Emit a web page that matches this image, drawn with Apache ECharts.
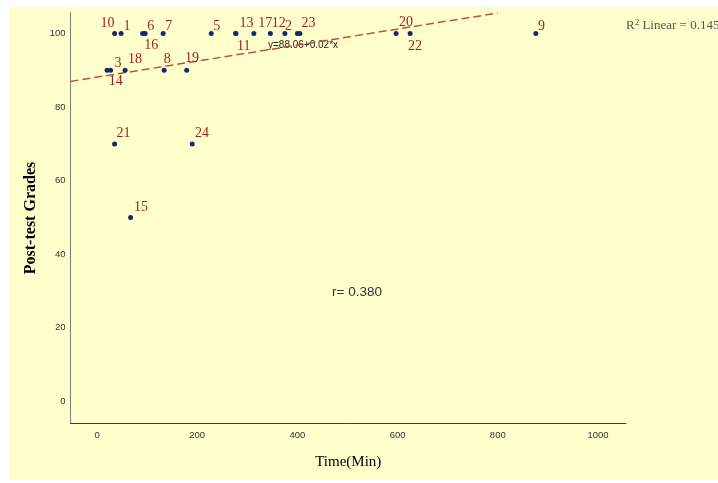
<!DOCTYPE html>
<html>
<head>
<meta charset="utf-8">
<script src="https://cdn.jsdelivr.net/npm/echarts@6/dist/echarts.min.js"></script>
<style>
  html, body { margin: 0; padding: 0; background: #ffffff; width: 718px; height: 483px; overflow: hidden; }
  #chart { position: absolute; left: 9px; top: 7px; width: 709px; height: 473px; }
</style>
</head>
<body>
<div id="chart"></div>
<script>
// case labels, time on task (min) and post-test grade
const caseLabels = ["10", "1", "6", "16", "7", "5", "13", "11", "17", "12", "2", "23", "", "20", "22", "9",
  "3", "14", "18", "8", "19", "21", "24", "15"];
const timeMin = [35, 48, 96, 91, 132, 228, 277, 277, 313, 346, 375, 400, 405, 597, 625, 876,
  27, 20, 56, 134, 179, 35, 190, 67];
const grades = [100, 100, 100, 100, 100, 100, 100, 100, 100, 100, 100, 100, 100, 100, 100, 100,
  90, 90, 90, 90, 90, 70, 70, 50];

// fitted line end points (as drawn)
const fitX = [-53, 800];
const fitY = [87.0, 105.6];

const xTicks = [0, 200, 400, 600, 800, 1000];
const yTicks = [0, 20, 40, 60, 80, 100];

// where each case label sits relative to its dot (centre offset, px)
const labelSpots = {
  "10": [-7, -10.5], "1": [6, -7], "6": [5.7, -7], "16": [8.6, 11.6], "7": [5.5, -7.4],
  "5": [5.5, -7], "13": [10.7, -10.5], "11": [8, 12.7], "17": [11.3, -10.5], "12": [8.4, -10.5],
  "2": [3.6, -7], "23": [11, -10.5], "20": [10, -11], "22": [5, 13], "9": [5.6, -7],
  "3": [7.4, -7.2], "14": [8.8, 11], "18": [9.8, -11], "8": [3, -10.7], "19": [5.3, -11.7],
  "21": [9, -11], "24": [9.8, -11], "15": [10.5, -10]
};

const chart = echarts.init(document.getElementById("chart"), null, { renderer: "canvas" });

const points = timeMin.map((t, i) => {
  const lab = caseLabels[i];
  const off = labelSpots[lab] || [0, 0];
  return {
    value: [t, grades[i]],
    name: lab,
    label: { show: lab !== "", offset: off }
  };
});

chart.setOption({
  backgroundColor: "#ffffcc",
  animation: false,
  grid: { left: 61.5, right: 92, top: 6, bottom: 57 },
  xAxis: {
    type: "value",
    min: -53,
    max: 1056,
    name: "Time(Min)",
    nameLocation: "middle",
    nameGap: 32,
    nameTextStyle: { fontFamily: "Liberation Serif", fontSize: 15, color: "#000" },
    axisLine: { show: true, onZero: false, lineStyle: { color: "#3c3c3c", width: 1 } },
    axisTick: { show: false },
    axisLabel: {
      customValues: xTicks,
      formatter: (v) => String(v),
      margin: 7,
      color: "#333",
      fontFamily: "Liberation Sans",
      fontSize: 9.5
    },
    splitLine: { show: false }
  },
  yAxis: {
    type: "value",
    min: -5.9,
    max: 105.6,
    name: "Post-test Grades",
    nameLocation: "middle",
    nameGap: 30,
    nameTextStyle: { fontFamily: "Liberation Serif", fontSize: 16, fontWeight: "bold", color: "#000" },
    axisLine: { show: true, onZero: false, lineStyle: { color: "#7a7a7a", width: 1 } },
    axisTick: { show: false },
    axisLabel: {
      customValues: yTicks,
      formatter: (v) => String(v),
      margin: 5,
      color: "#333",
      fontFamily: "Liberation Sans",
      fontSize: 9.5
    },
    splitLine: { show: false }
  },
  series: [
    {
      type: "line",
      data: fitX.map((x, i) => [x, fitY[i]]),
      symbol: "none",
      silent: true,
      z: 1,
      lineStyle: { color: "#c0504d", width: 1.5, type: [8, 4] }
    },
    {
      type: "scatter",
      data: points,
      symbolSize: 5,
      z: 3,
      itemStyle: { color: "#142a6e", opacity: 1 },
      label: {
        position: "inside",
        align: "center",
        verticalAlign: "middle",
        formatter: "{b}",
        color: "#9e1f22",
        fontFamily: "Liberation Serif",
        fontSize: 14
      }
    }
  ],
  graphic: [
    {
      type: "text",
      left: 259,
      top: 33,
      style: { text: "y=88.06+0.02*x", fill: "#222", font: "10px 'Liberation Sans'" }
    },
    {
      type: "text",
      left: 323,
      top: 278,
      style: { text: "r= 0.380", fill: "#333", font: "13.5px 'Liberation Sans'" }
    },
    {
      type: "text",
      left: 617,
      top: 11,
      style: {
        text: "R{sup|2} Linear = 0.145",
        fill: "#555",
        font: "13px 'Liberation Serif'",
        rich: { sup: { fontSize: 9, verticalAlign: "top", padding: [0, 0, 6, 0], fill: "#555", fontFamily: "Liberation Serif" } }
      }
    }
  ]
});
</script>
</body>
</html>
